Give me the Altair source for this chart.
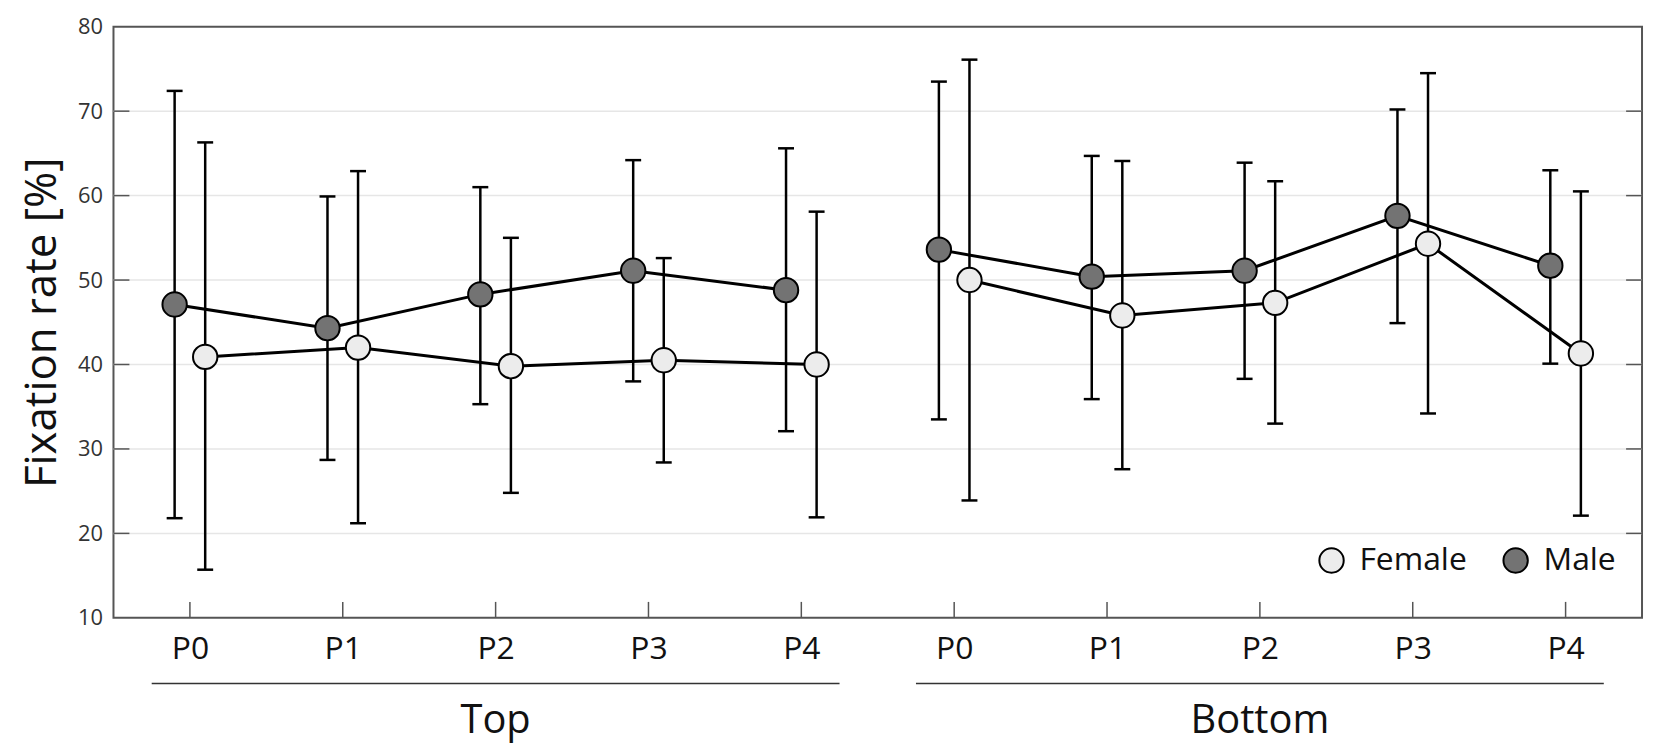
import altair as alt
import pandas as pd

positions = ["P0", "P1", "P2", "P3", "P4"]
groups = ["Top", "Bottom"]
sexes = ["Female", "Male"]

female_mean = [40.9, 42.0, 39.8, 40.5, 40.0, 50.0, 45.8, 47.3, 54.3, 41.3]
female_low = [15.7, 21.2, 24.8, 28.4, 21.9, 23.9, 27.6, 33.0, 34.2, 22.1]
female_high = [66.3, 62.9, 55.0, 52.6, 58.1, 76.1, 64.1, 61.7, 74.5, 60.5]

male_mean = [47.1, 44.3, 48.3, 51.1, 48.8, 53.6, 50.4, 51.1, 57.6, 51.7]
male_low = [21.8, 28.7, 35.3, 38.0, 32.1, 33.5, 35.9, 38.3, 44.9, 40.1]
male_high = [72.4, 59.9, 61.0, 64.2, 65.6, 73.5, 64.7, 63.9, 70.2, 63.0]

y_ticks = [10, 20, 30, 40, 50, 60, 70, 80]

# ---- build tables ----
rows = []
for s, means, lows, highs in [("Female", female_mean, female_low, female_high),
                              ("Male", male_mean, male_low, male_high)]:
    for i in range(len(means)):
        rows.append(dict(sex=s, group=groups[i // 5], pos=positions[i % 5], idx=i,
                         mean=means[i], lo=lows[i], hi=highs[i]))
df = pd.DataFrame(rows)
offset = {"Female": 0.1, "Male": -0.1}
df["xp"] = df["idx"] + df["sex"].map(offset)

n_cat = len(positions) * len(groups)
tick_df = pd.DataFrame({"idx": list(range(n_cat))})
grid_df = pd.DataFrame({"gv": y_ticks[1:-1]})

gdf = df.groupby("group", sort=False)["idx"].agg(["min", "max"]).reset_index()
gdf["center"] = (gdf["min"] + gdf["max"]) / 2
gdf["start"] = gdf["min"] - 0.25
gdf["end"] = gdf["max"] + 0.25

W, H = 1536, 594
FONT = "Open Sans"

xscale = alt.Scale(domain=[-0.5, n_cat - 0.5], nice=False, zero=False)
yscale = alt.Scale(domain=[10, 80], nice=False, zero=False)

xaxis = alt.Axis(values=list(range(n_cat)), labelExpr="'P' + (datum.value % 5)",
                 ticks=False, domain=False, grid=False, labelFontSize=32,
                 labelColor="#111", labelBaseline="middle", labelPadding=31,
                 labelFont=FONT, title=None)
yaxis = alt.Axis(values=y_ticks, ticks=False, domain=False, grid=False,
                 labelFontSize=22, labelColor="#333", labelPadding=11, labelFont=FONT,
                 title="Fixation rate [%]", titleFontSize=44, titleFontWeight="normal",
                 titleFont=FONT, titleColor="#111", titleX=-58, titleY=H / 2,
                 titleAngle=270, titleAlign="center", titleBaseline="alphabetic")

def X(field):
    return alt.X(field, type="quantitative", scale=xscale, axis=xaxis, title=None)

def Y(field):
    return alt.Y(field, type="quantitative", scale=yscale, axis=yaxis, title=None)

grid = alt.Chart(grid_df).mark_rule(color="#e6e6e6", strokeWidth=1.5).encode(
    y=Y("gv"), x=alt.value(0), x2=alt.value(W))

tick_len_x = 16 / (W / n_cat)
tick_len_y = 16 / (H / 70)

bottom_ticks = alt.Chart(tick_df).mark_rule(color="#555", strokeWidth=1.5).encode(
    x=X("idx"), y=alt.Y(datum=10, scale=yscale, axis=yaxis, title=None),
    y2=alt.Y2(datum=10 + tick_len_y))
left_ticks = alt.Chart(grid_df).mark_rule(color="#555", strokeWidth=1.5).encode(
    y=Y("gv"), x=alt.X(datum=-0.5, scale=xscale, axis=xaxis, title=None),
    x2=alt.X2(datum=-0.5 + tick_len_x))
right_ticks = alt.Chart(grid_df).mark_rule(color="#555", strokeWidth=1.5).encode(
    y=Y("gv"), x=alt.X(datum=n_cat - 0.5, scale=xscale, axis=xaxis, title=None),
    x2=alt.X2(datum=n_cat - 0.5 - tick_len_x))

err = alt.Chart(df).mark_rule(color="black", strokeWidth=2.5).encode(
    x=X("xp"), y=Y("lo"), y2="hi")
cap_lo = alt.Chart(df).mark_tick(orient="horizontal", size=16, thickness=2.5,
                                 color="black", opacity=1).encode(x=X("xp"), y=Y("lo"))
cap_hi = alt.Chart(df).mark_tick(orient="horizontal", size=16, thickness=2.5,
                                 color="black", opacity=1).encode(x=X("xp"), y=Y("hi"))

lines = alt.Chart(df).mark_line(color="black", strokeWidth=3).encode(
    x=X("xp"), y=Y("mean"), detail=["group:N", "sex:N"], order="xp:Q")

points = alt.Chart(df).mark_circle(size=600, stroke="black", strokeWidth=2,
                                   opacity=1).encode(
    x=X("xp"), y=Y("mean"),
    fill=alt.Fill("sex:N", scale=alt.Scale(domain=sexes, range=["#ececec", "#737373"]),
                  legend=alt.Legend(orient="none", legendX=1208, legendY=520,
                                    direction="horizontal", title=None,
                                    labelFontSize=32, labelFont=FONT, labelColor="#111",
                                    symbolSize=600, symbolType="circle",
                                    symbolStrokeColor="black", symbolStrokeWidth=2,
                                    symbolOpacity=1, labelOffset=12, columnPadding=32)))

underline = alt.Chart(gdf).mark_rule(color="#333", strokeWidth=1.5).encode(
    x=X("start"), x2="end", y=alt.value(H + 66))
glabels = alt.Chart(gdf).mark_text(fontSize=40, font=FONT, color="#111",
                                   baseline="middle").encode(
    x=X("center"), y=alt.value(H + 104), text="group:N")

chart = alt.layer(grid, bottom_ticks, left_ticks, right_ticks, err, cap_lo, cap_hi,
                  lines, points, underline, glabels).properties(
    width=W, height=H,
    autosize=alt.AutoSizeParams(type="none"),
    padding={"left": 106, "top": 17, "right": 4, "bottom": 129},
).configure(font=FONT).configure_view(stroke="#555", strokeWidth=2)

chart.save("out.html", embed_options={"renderer": "svg", "actions": False})
